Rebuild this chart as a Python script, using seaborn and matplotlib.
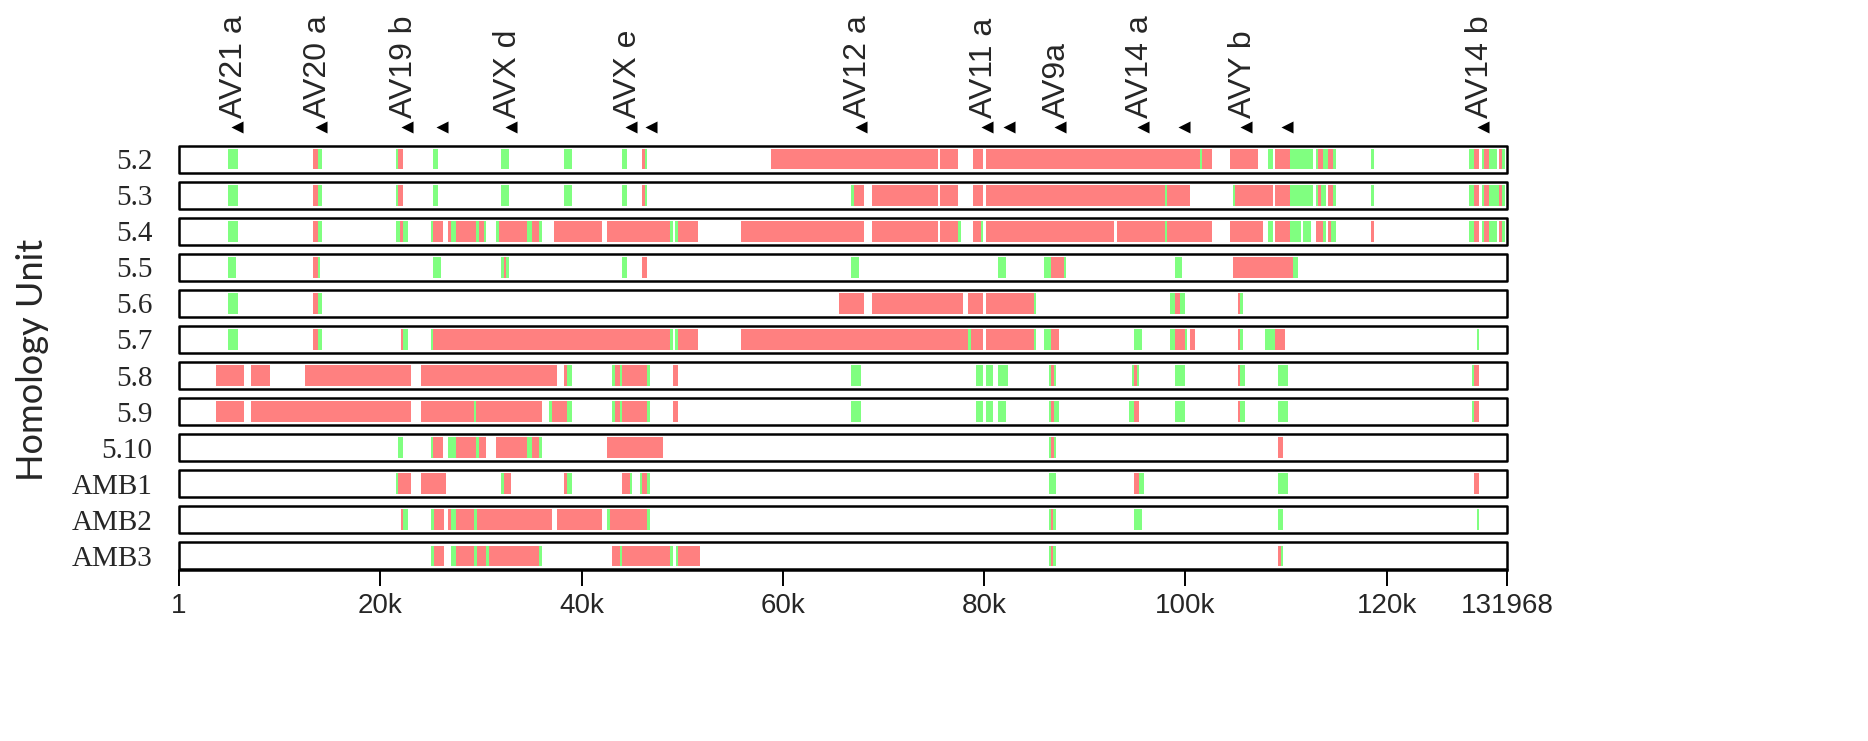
import matplotlib
matplotlib.use('Agg')
import matplotlib.pyplot as plt
import matplotlib.transforms as mtransforms
import seaborn as sns

# Segmentos por unidade de homologia: (inicio, fim, cor) - 'G' verde, 'R' vermelho
row_5_2 = [
    (4900, 5900, 'G'),
    (13300, 13770, 'R'), (13770, 14240, 'G'),
    (21520, 21750, 'G'), (21750, 22250, 'R'),
    (25280, 25780, 'G'),
    (32030, 32790, 'G'),
    (38290, 39040, 'G'),
    (44050, 44550, 'G'),
    (46050, 46300, 'R'), (46300, 46550, 'G'),
    (58810, 75420, 'R'),
    (75670, 77420, 'R'),
    (78920, 79920, 'R'),
    (80170, 101440, 'R'), (101440, 101690, 'G'), (101690, 102690, 'R'),
    (104450, 107200, 'R'),
    (108200, 108700, 'G'),
    (108950, 110450, 'R'), (110450, 112700, 'G'),
    (112950, 113200, 'G'), (113200, 113700, 'R'), (113700, 114200, 'G'),
    (114200, 114700, 'R'), (114700, 114950, 'G'),
    (118460, 118710, 'G'),
    (128220, 128720, 'G'), (128720, 129220, 'R'),
    (129470, 129720, 'G'), (129720, 130220, 'R'), (130220, 130970, 'G'),
    (131220, 131470, 'R'), (131470, 131720, 'G'),
]

row_5_3 = [
    (4900, 5900, 'G'),
    (13300, 13770, 'R'), (13770, 14240, 'G'),
    (21520, 21750, 'G'), (21750, 22250, 'R'),
    (25280, 25780, 'G'),
    (32030, 32790, 'G'),
    (38290, 39040, 'G'),
    (44050, 44550, 'G'),
    (46050, 46300, 'R'), (46300, 46550, 'G'),
    (66820, 67070, 'G'), (67070, 68070, 'R'),
    (68820, 75420, 'R'),
    (75670, 77420, 'R'),
    (78920, 79920, 'R'),
    (80170, 97940, 'R'), (97940, 98190, 'G'), (98190, 100440, 'R'),
    (104700, 104950, 'G'), (104950, 108700, 'R'),
    (108950, 110450, 'R'), (110450, 112700, 'G'),
    (112950, 113200, 'G'), (113200, 113450, 'R'), (113450, 113950, 'G'),
    (114200, 114700, 'R'), (114700, 114950, 'G'),
    (118460, 118710, 'G'),
    (128220, 128720, 'G'), (128720, 129220, 'R'),
    (129470, 129720, 'G'), (129720, 130220, 'R'), (130220, 131220, 'G'),
    (131220, 131470, 'R'), (131470, 131720, 'G'),
]

row_5_4 = [
    (4900, 5900, 'G'),
    (13300, 13770, 'R'), (13770, 14240, 'G'),
    (21520, 22000, 'G'), (22000, 22250, 'R'), (22250, 22750, 'G'),
    (25030, 25280, 'G'), (25280, 26280, 'R'),
    (26780, 27030, 'R'), (27030, 27530, 'G'), (27530, 29530, 'R'),
    (29530, 29780, 'G'), (29780, 30280, 'R'), (30280, 30530, 'G'),
    (31530, 31780, 'G'), (31780, 34540, 'R'), (34540, 35040, 'G'),
    (35040, 35790, 'R'), (35790, 36040, 'G'),
    (37290, 42050, 'R'),
    (42550, 48800, 'R'), (48800, 49050, 'G'),
    (49300, 49550, 'G'), (49550, 51560, 'R'),
    (55810, 68070, 'R'),
    (68820, 75420, 'R'),
    (75670, 77420, 'R'), (77420, 77670, 'G'),
    (78920, 79670, 'R'), (79670, 79920, 'G'),
    (80170, 92930, 'R'),
    (93180, 97940, 'R'), (97940, 98190, 'G'), (98190, 102690, 'R'),
    (104450, 107700, 'R'),
    (108200, 108700, 'G'),
    (108950, 110450, 'R'), (110450, 111450, 'G'),
    (111700, 112450, 'G'),
    (112950, 113700, 'R'), (113700, 113950, 'G'),
    (114200, 114450, 'R'), (114450, 114950, 'G'),
    (118460, 118710, 'R'),
    (128220, 128720, 'G'), (128720, 129220, 'R'),
    (129470, 129720, 'G'), (129720, 130220, 'R'), (130220, 130970, 'G'),
    (131220, 131470, 'R'), (131470, 131720, 'G'),
]

row_5_5 = [
    (4900, 5650, 'G'),
    (13300, 13770, 'R'), (13770, 13990, 'G'),
    (25280, 26030, 'G'),
    (32030, 32280, 'G'), (32280, 32540, 'R'), (32540, 32790, 'G'),
    (44050, 44550, 'G'),
    (46050, 46550, 'R'),
    (66820, 67570, 'G'),
    (81420, 82170, 'G'),
    (85920, 86670, 'G'), (86670, 87930, 'R'), (87930, 88180, 'G'),
    (98940, 99690, 'G'),
    (104700, 110700, 'R'), (110700, 111200, 'G'),
]

row_5_6 = [
    (4900, 5900, 'G'),
    (13300, 13770, 'R'), (13770, 14240, 'G'),
    (65570, 68070, 'R'),
    (68820, 77920, 'R'),
    (78420, 79920, 'R'),
    (80170, 84920, 'R'), (84920, 85170, 'G'),
    (98440, 98940, 'G'), (98940, 99440, 'R'), (99440, 99940, 'G'),
    (105200, 105450, 'R'), (105450, 105700, 'G'),
]

row_5_7 = [
    (4900, 5900, 'G'),
    (13300, 13770, 'R'), (13770, 14240, 'G'),
    (22030, 22280, 'R'), (22280, 22750, 'G'),
    (25030, 25280, 'G'), (25280, 48800, 'R'), (48800, 49050, 'G'),
    (49300, 49550, 'G'), (49550, 51560, 'R'),
    (55810, 78420, 'R'), (78420, 78670, 'G'), (78670, 79920, 'R'),
    (80170, 84920, 'R'), (84920, 85170, 'G'),
    (85920, 86670, 'G'), (86670, 87430, 'R'),
    (94930, 95680, 'G'),
    (98440, 98940, 'G'), (98940, 99940, 'R'), (99940, 100190, 'G'),
    (100440, 100940, 'R'),
    (105200, 105450, 'R'), (105450, 105700, 'G'),
    (107950, 108950, 'G'), (108950, 109950, 'R'),
    (128970, 129220, 'G'),
]

row_5_8 = [
    (3670, 6430, 'R'),
    (7180, 9010, 'R'),
    (12520, 23030, 'R'),
    (24030, 37540, 'R'),
    (38290, 38540, 'R'), (38540, 39040, 'G'),
    (43050, 43300, 'G'), (43300, 43800, 'R'), (43800, 44050, 'G'),
    (44050, 46550, 'R'), (46550, 46800, 'G'),
    (49050, 49550, 'R'),
    (66820, 67820, 'G'),
    (79170, 79920, 'G'),
    (80170, 80920, 'G'),
    (81420, 82420, 'G'),
    (86420, 86670, 'G'), (86670, 86920, 'R'), (86920, 87170, 'G'),
    (94680, 94930, 'G'), (94930, 95180, 'R'), (95180, 95430, 'G'),
    (98940, 99940, 'G'),
    (105200, 105450, 'R'), (105450, 105950, 'G'),
    (109200, 110200, 'G'),
    (128470, 128720, 'G'), (128720, 129220, 'R'),
]

row_5_9 = [
    (3670, 6430, 'R'),
    (7180, 23030, 'R'),
    (24030, 29280, 'R'), (29280, 29530, 'G'), (29530, 36040, 'R'),
    (36790, 37040, 'G'), (37040, 38540, 'R'), (38540, 39040, 'G'),
    (43050, 43300, 'G'), (43300, 43800, 'R'), (43800, 44050, 'G'),
    (44050, 46550, 'R'), (46550, 46800, 'G'),
    (49050, 49550, 'R'),
    (66820, 67820, 'G'),
    (79170, 79920, 'G'),
    (80170, 80920, 'G'),
    (81420, 82170, 'G'),
    (86420, 86670, 'G'), (86670, 86920, 'R'), (86920, 87430, 'G'),
    (94430, 94930, 'G'), (94930, 95430, 'R'),
    (98940, 99940, 'G'),
    (105200, 105450, 'R'), (105450, 105950, 'G'),
    (109200, 110200, 'G'),
    (128470, 128720, 'G'), (128720, 129220, 'R'),
]

row_5_10 = [
    (21770, 22280, 'G'),
    (25030, 25280, 'G'), (25280, 26280, 'R'),
    (26780, 27530, 'G'), (27530, 29530, 'R'), (29530, 29780, 'G'), (29780, 30530, 'R'),
    (31530, 34540, 'R'), (34540, 35040, 'G'), (35040, 35790, 'R'), (35790, 36040, 'G'),
    (42550, 48050, 'R'),
    (86420, 86670, 'G'), (86670, 86920, 'R'), (86920, 87170, 'G'),
    (109200, 109700, 'R'),
]

row_amb1 = [
    (21520, 21750, 'G'), (21750, 23030, 'R'),
    (24030, 26530, 'R'),
    (32030, 32280, 'G'), (32280, 33030, 'R'),
    (38290, 38540, 'R'), (38540, 39040, 'G'),
    (44050, 44800, 'R'), (44800, 45050, 'G'),
    (45800, 46050, 'G'), (46050, 46550, 'R'), (46550, 46800, 'G'),
    (86420, 87170, 'G'),
    (94930, 95430, 'R'), (95430, 95930, 'G'),
    (109200, 110200, 'G'),
    (128720, 129220, 'R'),
]

row_amb2 = [
    (22030, 22250, 'R'), (22250, 22770, 'G'),
    (25030, 25300, 'G'), (25300, 26300, 'R'),
    (26780, 27040, 'R'), (27040, 27520, 'G'), (27520, 29310, 'R'),
    (29310, 29570, 'G'), (29570, 37030, 'R'),
    (37560, 42050, 'R'),
    (42530, 42790, 'G'), (42790, 46550, 'R'), (46550, 46800, 'G'),
    (86420, 86680, 'G'), (86680, 86900, 'R'), (86900, 87170, 'G'),
    (94950, 95660, 'G'),
    (109200, 109690, 'G'),
    (128950, 129220, 'G'),
]

row_amb3 = [
    (25030, 25300, 'G'), (25300, 26300, 'R'),
    (27040, 27520, 'G'), (27520, 29310, 'R'), (29310, 29570, 'G'),
    (29570, 30530, 'R'), (30530, 30790, 'G'), (30790, 35810, 'R'), (35810, 36070, 'G'),
    (43050, 43800, 'R'), (43800, 44060, 'G'), (44060, 48810, 'R'), (48810, 49070, 'G'),
    (49340, 49560, 'G'), (49560, 51820, 'R'),
    (86420, 86680, 'G'), (86680, 86900, 'R'), (86900, 87170, 'G'),
    (109200, 109470, 'R'), (109470, 109700, 'G'),
]

row_names = ['5.2', '5.3', '5.4', '5.5', '5.6', '5.7', '5.8', '5.9', '5.10',
             'AMB1', 'AMB2', 'AMB3']
rows = [row_5_2, row_5_3, row_5_4, row_5_5, row_5_6, row_5_7, row_5_8, row_5_9,
        row_5_10, row_amb1, row_amb2, row_amb3]

# Marcadores no topo e rótulos
marker_pos = [5730, 14070, 22610, 26110, 33010, 44910, 46910, 67800, 80250,
              82450, 87540, 95800, 99910, 106060, 110060, 129580]
label_pos = [5730, 14070, 22610, 33010, 44910, 67800, 80250, 87540, 95800,
             106060, 129580]
label_text = ['AV21 a', 'AV20 a', 'AV19 b', 'AVX d', 'AVX e', 'AV12 a', 'AV11 a',
              'AV9a', 'AV14 a', 'AVY b', 'AV14 b']

x_min, x_max = 1, 131968
tick_pos = [1, 20000, 40000, 60000, 80000, 100000, 120000, 131968]
tick_labels = ['1', '20k', '40k', '60k', '80k', '100k', '120k', '131968']

VERDE = '#80ff80'
VERMELHO = '#ff8080'

sns.set_style('white')
plt.rcParams['font.family'] = ['Liberation Sans', 'DejaVu Sans']

fig = plt.figure(figsize=(18.68, 7.41), dpi=100)
ax = fig.add_axes([179 / 1868, 1 - 570 / 741, 1328 / 1868, 425 / 741])

for i, segs in enumerate(rows):
    reds = [(s, e - s) for s, e, c in segs if c == 'R']
    greens = [(s, e - s) for s, e, c in segs if c == 'G']
    ax.broken_barh(reds, (i - 0.28, 0.56), facecolors=VERMELHO, edgecolor='none')
    ax.broken_barh(greens, (i - 0.28, 0.56), facecolors=VERDE, edgecolor='none')
    ax.broken_barh([(x_min, x_max - x_min)], (i - 0.385, 0.77),
                   facecolors='none', edgecolors='black', linewidth=1.8,
                   clip_on=False, zorder=3)

# Marcadores triangulares
sns.scatterplot(x=marker_pos, y=[-0.91] * len(marker_pos), marker='<', s=75,
                color='black', edgecolor='black', linewidth=0, clip_on=False,
                legend=False, ax=ax)

trans = mtransforms.offset_copy(ax.transData, fig=fig, x=-3, y=0, units='dots')
for x, txt in zip(label_pos, label_text):
    ax.text(x, -1.14, txt, rotation=90, ha='center', va='bottom', fontsize=23,
            transform=trans, clip_on=False)

ax.set_xlim(x_min, x_max)
ax.set_ylim(11.4, -0.4)

ax.set_xticks(tick_pos)
ax.set_xticklabels(tick_labels, fontsize=20)
ax.tick_params(axis='x', bottom=True, direction='out', length=11.5, width=1.4,
               color='black', pad=5)

ax.set_yticks(range(len(row_names)))
ax.set_yticklabels(row_names, fontsize=21, fontfamily='Liberation Serif')
ax.tick_params(axis='y', left=False, length=0, pad=19)

for side in ['top', 'left', 'right']:
    ax.spines[side].set_visible(False)
ax.spines['bottom'].set_color('black')
ax.spines['bottom'].set_linewidth(1.8)

fig.text(33 / 1868, 1 - 360 / 741, 'Homology Unit', rotation=90, ha='center',
         va='center', fontsize=26, family=['Lato', 'DejaVu Sans'])

fig.savefig('out.png', dpi=100)
